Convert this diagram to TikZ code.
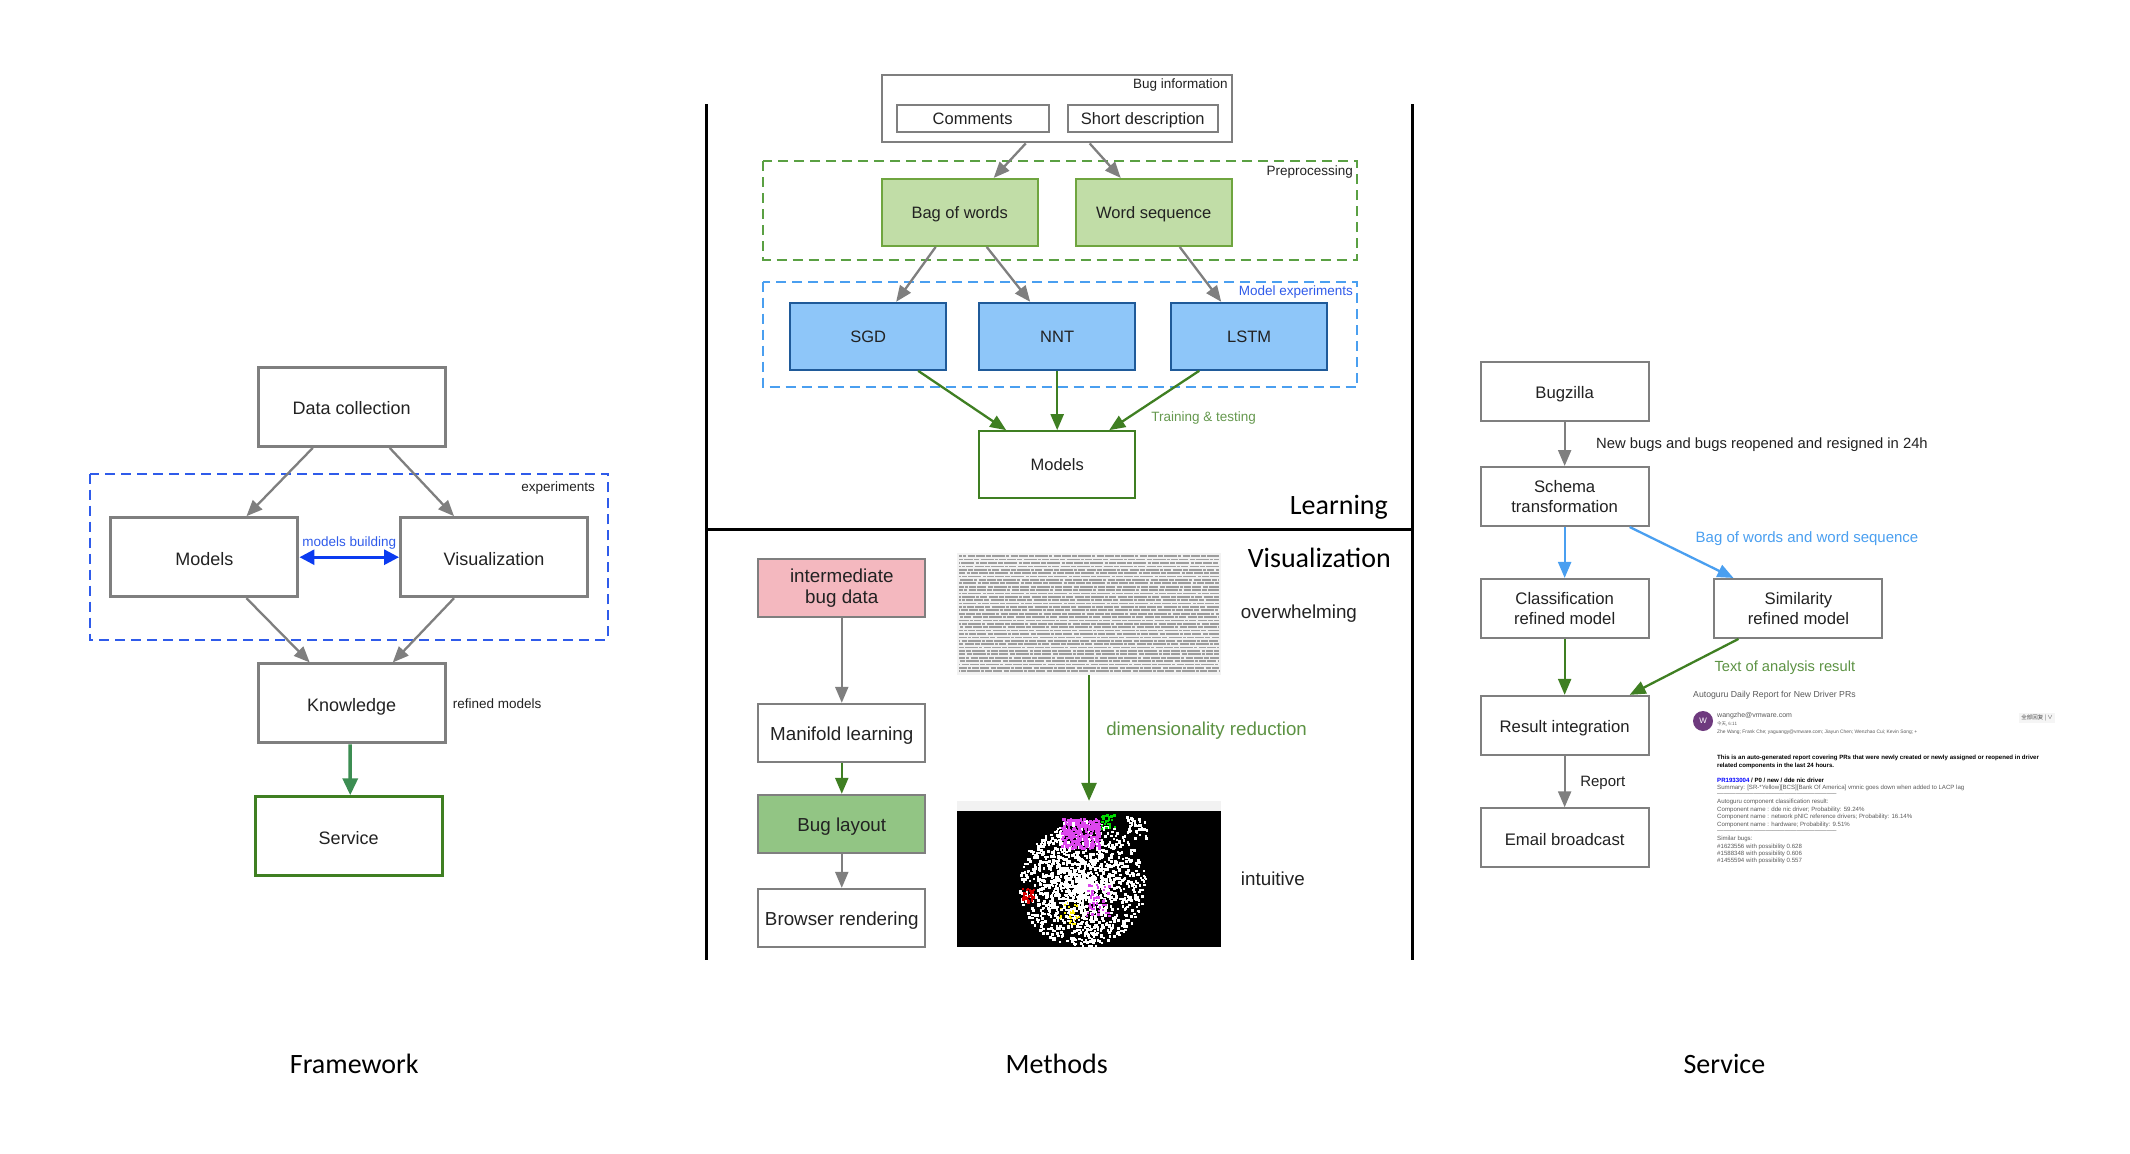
\documentclass[tikz,border=0pt]{standalone}
\usepackage{fontspec}
\setmainfont{Liberation Sans}
\newfontfamily\titlefont{Carlito}
\newfontfamily\cjk{Noto Sans CJK SC}
\usepackage{xcolor}
\usetikzlibrary{arrows.meta}
\usetikzlibrary{positioning}

\definecolor{linegray}{HTML}{7F7F7F}
\definecolor{txtdark}{HTML}{222222}
\definecolor{dashblue}{HTML}{2F5BEA}
\definecolor{arrowblue}{HTML}{0B3BF0}
\definecolor{skyblue}{HTML}{4A9FF0}
\definecolor{boxblue}{HTML}{8EC6F9}
\definecolor{edgeblue}{HTML}{1F5A99}
\definecolor{boxgreen}{HTML}{C1DDA7}
\definecolor{edgegreen}{HTML}{6FA53F}
\definecolor{dashgreen}{HTML}{5AA043}
\definecolor{darkgreen}{HTML}{3F7F22}
\definecolor{servegreen}{HTML}{3C8D52}
\definecolor{layoutgreen}{HTML}{92C584}
\definecolor{boxpink}{HTML}{F4B8BF}
\definecolor{dotpink}{HTML}{DD45EE}
\definecolor{avatarpurple}{HTML}{6E3A7E}

\tikzset{
  box/.style={draw=linegray, line width=2pt, fill=white, inner sep=0pt, align=center,
    text=txtdark, text height=12pt, text depth=0pt, font=\fontsize{16.5}{20}\selectfont},
  twoline/.style={text height=, text depth=},
  bigbox/.style={box, line width=3pt, minimum width=187pt, minimum height=79pt,
    text height=16pt, font=\fontsize{18}{21}\selectfont},
  midbox/.style={box, minimum width=156pt, minimum height=67pt},
  colbox/.style={box, minimum width=167pt, minimum height=58pt, text height=15.5pt,
    font=\fontsize{18.8}{23}\selectfont},
  sidebox/.style={box, minimum width=168pt, minimum height=59pt, text height=14.5pt,
    font=\fontsize{16.7}{20.5}\selectfont},
  graybar/.style={linegray, line width=2.3pt, -{Triangle[length=16pt,width=13pt]}},
  greenbar/.style={darkgreen, line width=2.3pt, -{Triangle[length=16pt,width=13pt]}},
  bluebar/.style={skyblue, line width=2.3pt, -{Triangle[length=16pt,width=13pt]}},
  dashframe/.style={line width=2pt, dash pattern=on 10pt off 6pt},
  smalltext/.style={inner sep=0pt, text=txtdark, font=\fontsize{13.5}{16}\selectfont},
  sidetext/.style={inner sep=0pt, anchor=west, text=txtdark, font=\fontsize{18.8}{23}\selectfont},
  heading/.style={inner sep=0pt, text=black, font=\titlefont\fontsize{28}{32}\selectfont},
  mailtext/.style={inner sep=0pt, anchor=west, text=black!65, font=\fontsize{6.1}{7}\selectfont}
}

\begin{document}
\begin{tikzpicture}[x=0.995pt, y=-0.995pt]
    \useasboundingbox (0,0) rectangle (2140.7,1159.8);

    % framework
    \draw[dashframe, draw=dashblue] (90,476) rectangle (611,643);
    \node(data) [bigbox] at (353.5,409) {Data collection};
    \node(models) [bigbox] at (205.5,560) {Models};
    \node(vis) [bigbox] at (496.5,560) {Visualization};
    \node(know) [bigbox] at (353.5,707) {Knowledge};
    \node(serve) [bigbox, draw=darkgreen] at (350.5,840.5) {Service};

    \draw[graybar] ([xshift=-39pt]data.south) -- ([xshift=42pt]models.north);
    \draw[graybar] ([xshift=38pt]data.south) -- ([xshift=-40pt]vis.north);
    \draw[graybar] ([xshift=42pt]models.south) -- ([xshift=-42pt]know.north);
    \draw[graybar] ([xshift=-40pt]vis.south) -- ([xshift=41pt]know.north);
    \draw[servegreen, line width=3.5pt, -{Triangle[length=17pt,width=15pt]}] ([xshift=-1.5pt]know.south) -- ([xshift=1.5pt]serve.north);
    \draw[arrowblue, line width=3pt, {Triangle[length=15pt,width=15pt]}-{Triangle[length=15pt,width=15pt]}] (models.east) -- (vis.west)
      node (buildlabel) [midway, above = 6pt, inner sep=0pt, text=dashblue, font=\fontsize{13.5}{16}\selectfont] {models building};

    \node(explabel) [smalltext, anchor=east] at (598,490) {experiments};
    \node(reflabel) [smalltext, right = 6pt of know] {refined models};
    \node(cap1) [heading] at (356,1069) {Framework};

    % methods frame
    \draw[black, line width=3pt] (710,105) -- (710,965);
    \draw[black, line width=3pt] (1420,105) -- (1420,965);
    \draw[black, line width=3pt] (710,532) -- (1420,532);

    % learning
    \draw[dashframe, draw=dashgreen] (767,162) rectangle (1364,261);
    \draw[dashframe, draw=skyblue] (767,283) rectangle (1364,389);

    \node(buginfo) [box, minimum width=350pt, minimum height=67pt] at (1062,109.5) {};
    \node(comments) [box, minimum width=152pt, minimum height=27pt] at (977.5,119) {Comments};
    \node(short) [box, minimum width=150pt, minimum height=27pt] at (1148.5,119) {Short description};
    \node(bag) [midbox, draw=edgegreen, fill=boxgreen] at (964.5,213.5) {Bag of words};
    \node(word) [midbox, draw=edgegreen, fill=boxgreen] at (1159.5,213.5) {Word sequence};
    \node(sgd) [midbox, draw=edgeblue, fill=boxblue] at (872.5,338) {SGD};
    \node(nnt) [midbox, draw=edgeblue, fill=boxblue] at (1062.5,338) {NNT};
    \node(lstm) [midbox, draw=edgeblue, fill=boxblue] at (1255.5,338) {LSTM};
    \node(trained) [midbox, draw=darkgreen] at (1062.5,467) {Models};

    \draw[graybar] ([xshift=-31pt]buginfo.south) -- ([xshift=34pt]bag.north);
    \draw[graybar] ([xshift=33pt]buginfo.south) -- ([xshift=-33pt]word.north);
    \draw[graybar] ([xshift=-24pt]bag.south) -- ([xshift=28pt]sgd.north);
    \draw[graybar] ([xshift=27pt]bag.south) -- ([xshift=-27pt]nnt.north);
    \draw[graybar] ([xshift=26pt]word.south) -- ([xshift=-28pt]lstm.north);
    \draw[greenbar] ([xshift=50pt]sgd.south) -- ([xshift=-51pt]trained.north);
    \draw[greenbar] (nnt.south) -- (trained.north);
    \draw[greenbar] ([xshift=-50pt]lstm.south) -- ([xshift=52pt]trained.north);

    \node(infolabel) [smalltext, anchor=east] at (1234,85) {Bug information};
    \node(prelabel) [smalltext, anchor=east] at (1360,173) {Preprocessing};
    \node(explabel2) [smalltext, anchor=east, text=dashblue] at (1360,293) {Model experiments};
    \node(trainlabel) [smalltext, anchor=west, text=darkgreen!80] at (1157,420) {Training \& testing};
    \node(learnlabel) [heading, anchor=east] at (1395,510) {Learning};
    \node(vislabel) [heading, anchor=east] at (1398,561) {Visualization};

    % visualization
    \node(inter) [colbox, twoline, fill=boxpink, font=\fontsize{18.8}{21}\selectfont] at (846,591) {intermediate\\bug data};
    \node(manifold) [colbox] at (846,736.5) {Manifold learning};
    \node(layout) [colbox, fill=layoutgreen] at (846,828) {Bug layout};
    \node(browser) [colbox] at (846,922.5) {Browser rendering};

    \draw[graybar] (inter) -- (manifold);
    \draw[greenbar] (manifold) -- (layout);
    \draw[graybar] (layout) -- (browser);

    % page of raw text
    \node(rawtext) [inner sep=0pt, minimum width=264pt, minimum height=122pt, fill=black!5] at (1094.5,617) {};
    \pgfmathsetseed{11}
    \foreach \row in {0,...,34} {
      \pgfmathsetmacro\phase{40*rnd}
      \draw[black!38, line width=1.7pt, dash pattern=on 9pt off 1.2pt on 5pt off 1.2pt on 13pt off 1.2pt on 3pt off 1.2pt on 7pt off 1.2pt, dash phase=\phase pt]
        (964,{559+3.4*\row}) -- (1225,{559+3.4*\row});
    }

    % scatter of bugs
    \node(plot) [inner sep=0pt, minimum width=264pt, minimum height=136pt, fill=black] at (1094.5,883.5) {};
    \fill[black!5] (plot.north west) rectangle ([yshift=10pt]plot.north east);
    \foreach \i in {1,...,1400} {
      \pgfmathsetmacro\ang{360*rnd}
      \pgfmathsetmacro\rad{64*pow(rnd,0.85)}
      \fill[white] ({1087+\rad*cos(\ang)},{887+\rad*sin(\ang)}) rectangle ++(2.6,2.6);
    }
    \foreach \i in {1,...,45} {
      \fill[white] ({1132+20*rnd},{820+22*rnd}) rectangle ++(2.6,2.6);
    }
    \foreach \i in {1,...,260} {
      \fill[dotpink] ({1066+38*rnd},{822+30*rnd}) rectangle ++(2.6,2.6);
    }
    \foreach \i in {1,...,45} {
      \fill[dotpink] ({1090+24*rnd},{888+32*rnd}) rectangle ++(2.4,2.4);
    }
    \foreach \i in {1,...,28} {
      \fill[green!85!black] ({1106+14*rnd},{818+14*rnd}) rectangle ++(2.4,2.4);
      \fill[red!85!black] ({1026+12*rnd},{892+14*rnd}) rectangle ++(2.4,2.4);
      \fill[yellow] ({1064+20*rnd},{906+24*rnd}) rectangle ++(1.8,1.8);
    }

    \draw[greenbar, line width=2.5pt, -{Triangle[length=18pt,width=15pt]}] (rawtext.south) -- ([yshift=10pt]plot.north)
      node (dimlabel) [pos=.44, right = 16pt, inner sep=0pt, text=darkgreen!85, font=\fontsize{18.7}{23}\selectfont] {dimensionality reduction};
    \node(overlabel) [sidetext] at (1247,617) {overwhelming};
    \node(intuilabel) [sidetext] at (1247,883) {intuitive};
    \node(cap2) [heading] at (1062,1069) {Methods};

    % service
    \node(bugz) [sidebox] at (1572.5,393) {Bugzilla};
    \node(schema) [sidebox, twoline] at (1572.5,499) {Schema\\transformation};
    \node(classif) [sidebox, twoline] at (1572.5,611.5) {Classification\\refined model};
    \node(simil) [sidebox, twoline] at (1807.5,611.5) {Similarity\\refined model};
    \node(result) [sidebox] at (1572.5,729) {Result integration};
    \node(email) [sidebox] at (1572.5,842) {Email broadcast};

    \draw[graybar] (bugz) -- (schema);
    \draw[bluebar] (schema) -- (classif);
    \draw[bluebar] ([xshift=65pt]schema.south) -- ([xshift=-65pt]simil.north);
    \draw[greenbar] (classif) -- (result);
    \draw[greenbar] ([xshift=-60pt]simil.south) -- ([xshift=65pt]result.north);
    \draw[graybar] (result) -- (email);

    \node(newlabel) [smalltext, anchor=west, font=\fontsize{14.8}{18}\selectfont] at (1604,447) {New bugs and bugs reopened and resigned in 24h};
    \node(baglabel) [smalltext, anchor=west, text=skyblue, font=\fontsize{15}{18}\selectfont] at (1704,541) {Bag of words and word sequence};
    \node(textlabel) [smalltext, anchor=west, text=darkgreen!85, font=\fontsize{14.7}{18}\selectfont] at (1723,671) {Text of analysis result};
    \node(replabel) [smalltext, anchor=west, font=\fontsize{15}{18}\selectfont] at (1588,787) {Report};
    \node(cap3) [heading] at (1733,1069) {Service};

    % mail
    \begin{scope}[x=1pt, y=-1pt]
    \node(mailhead) [mailtext, font=\fontsize{8.7}{10}\selectfont] at (1693,695) {Autoguru Daily Report for New Driver PRs};
    \node(avatar) [circle, fill=avatarpurple, text=white, inner sep=0pt, minimum size=20pt, font=\fontsize{8}{9}\selectfont] at (1703,721) {W};
    \node(sender) [mailtext, font=\fontsize{7}{9}\selectfont] at (1717,716) {wangzhe@vmware.com};
    \node(maildate) [mailtext, font=\cjk\fontsize{4.5}{5}\selectfont] at (1717,724) {今天, 6:11};
    \node(replybtn) [inner sep=2pt, fill=black!4, text=black!70, font=\cjk\fontsize{5.5}{6}\selectfont] at (2037,718) {全部回复 | ∨};
    \node(mailto) [mailtext, font=\fontsize{4.9}{6}\selectfont] at (1717,732) {Zhe Wang; Frank Che; yaguangy@vmware.com; Jiayun Chen; Wenzhao Cui; Kevin Song; +};
    \node(intro1) [mailtext, text=black, font=\bfseries\fontsize{6.1}{7}\selectfont] at (1717,758) {This is an auto-generated report covering PRs that were newly created or newly assigned or reopened in driver};
    \node(intro2) [mailtext, text=black, font=\bfseries\fontsize{6.1}{7}\selectfont] at (1717,766) {related components in the last 24 hours.};
    \node(prline) [mailtext, text=black, font=\bfseries\fontsize{6.1}{7}\selectfont] at (1717,780) {\textcolor{blue}{PR1933004} / P0 / new / dde nic driver};
    \foreach \yy/\line [count=\n] in {
      788/{Summary: [SR-*Yellow][BCS][Bank Of America] vmnic goes down when added to LACP lag},
      795/{-----------------------------------------------------------},
      802/{Autoguru component classification result:},
      810/{Component name : dde nic driver; Probability: 59.24\%},
      817/{Component name : network pNIC reference drivers; Probability: 16.14\%},
      825/{Component name : hardware; Probability: 9.51\%},
      832/{-----------------------------------------------------------},
      839/{Similar bugs:},
      847/{\#1623556 with possibility 0.628},
      854/{\#1588348 with possibility 0.606},
      861/{\#1455594 with possibility 0.557}} {
      \node(mail\n) [mailtext] at (1717,\yy) {\line};
    }
    \end{scope}
\end{tikzpicture}
\end{document}
